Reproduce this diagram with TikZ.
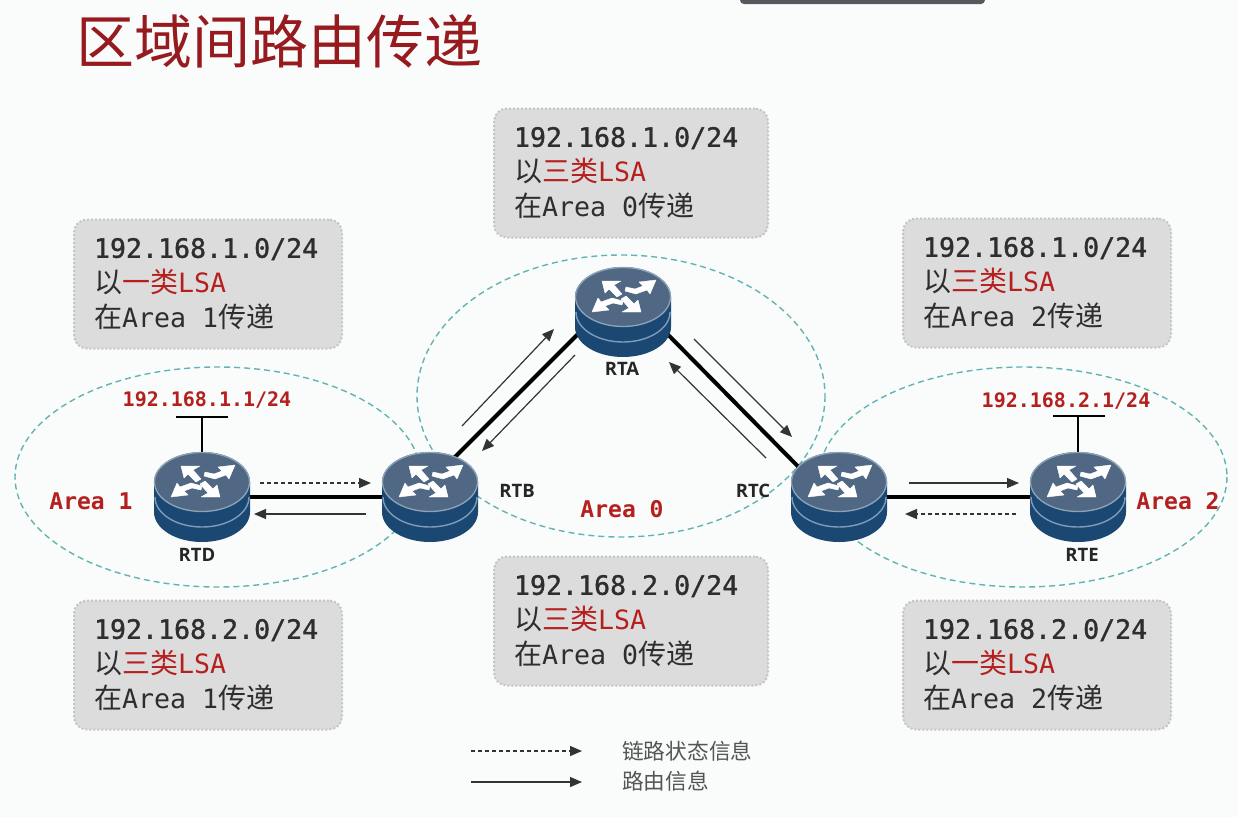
\documentclass[tikz,border=0pt]{standalone}
\usepackage{fontspec}
\setmainfont{DejaVu Sans}
\setmonofont{DejaVu Sans Mono}
\newfontfamily\cjk{Noto Sans CJK SC}
\newfontfamily\rtfont{Open Sans}
\newfontfamily\monoreg{DejaVu Sans Mono}
\newfontfamily\monomed[FakeBold=1.2]{DejaVu Sans Mono}
\usetikzlibrary{arrows.meta,calc}
\definecolor{bgc}{HTML}{F9FCFB}
\definecolor{ttlred}{HTML}{961A1E}
\definecolor{lsared}{HTML}{B5201F}
\definecolor{txtc}{HTML}{2E2E2E}
\definecolor{boxc}{HTML}{DCDCDC}
\definecolor{boxe}{HTML}{C4C4C4}
\definecolor{teal1}{HTML}{62B4B2}
\definecolor{rtop}{HTML}{506884}
\definecolor{rrim}{HTML}{8FA3B7}
\definecolor{rside}{HTML}{1B4872}
\definecolor{rline}{HTML}{7E9CBA}
\definecolor{legc}{HTML}{555555}
\definecolor{barc}{HTML}{55585C}
\tikzset{
  x=1pt,y=-1pt,
  arealoop/.style={draw=teal1,line width=1.4pt,dash pattern=on 6pt off 4pt},
  lsabox/.style={fill=boxc,draw=boxe,line width=2pt,dotted,rounded corners=13pt,minimum height=129pt,text width=228pt,inner xsep=20pt,inner ysep=0pt,align=left,text=txtc,font=\fontsize{26.6}{35}\selectfont\monoreg},
  link/.style={line width=4pt,black},
  stub/.style={line width=2.4pt,black},
  routeinfo/.style={line width=1.2pt,draw=black!80,-{Triangle[length=12pt,width=10pt]}},
  linkinfo/.style={line width=1.4pt,draw=black!80,dash pattern=on 4pt off 3pt,-{Triangle[length=12pt,width=10pt]}},
  rtnode/.style={circle,minimum size=96pt,inner sep=0pt},
  rtlabel/.style={font=\fontsize{18.5}{18.5}\selectfont\rtfont\bfseries,text=black!85},
  iplabel/.style={font=\fontsize{20}{20}\selectfont\ttfamily\bfseries,text=lsared},
  arealabel/.style={font=\fontsize{23}{23}\selectfont\ttfamily\bfseries,text=lsared},
  legendtext/.style={font=\fontsize{21.7}{21.7}\selectfont\cjk,text=legc},
  iconarrow/.style={fill=white,draw=white,line width=0.4pt,line join=round}
}
\newcommand{\drawrouter}[1]{%
  \begin{scope}[shift={(#1)}]
    \fill[rside] (-48,-15) -- (-48,15) arc[start angle=180,end angle=360,x radius=48pt,y radius=30pt] -- (48,-15) -- cycle;
    \fill[rside] (0,-15) ellipse[x radius=48,y radius=30];
    \draw[rline,line width=1.4pt] (-47,0) arc[start angle=180,end angle=360,x radius=47pt,y radius=30pt];
    \fill[rtop,draw=rrim,line width=1.3pt] (0,-15) ellipse[x radius=47.5,y radius=29.5];
    \draw[iconarrow] (-21,-31) -- (-2,-31) -- (-9,-27) -- (-1,-18) -- (-6,-15) -- (-14,-23) -- (-18,-19) -- cycle;
    \draw[iconarrow] (18,0) -- (-1,0) -- (6,-4) -- (-2,-13) -- (3,-16) -- (11,-8) -- (15,-12) -- cycle;
    \draw[iconarrow] (33,-32) -- (16,-30) -- (20,-26) -- (12,-23) -- (3,-25) -- (2,-21) -- (13,-18) -- (24,-22) -- (27,-18) -- cycle;
    \draw[iconarrow] (-31,0) -- (-14,-2) -- (-18,-6) -- (-10,-9) -- (-1,-7) -- (0,-11) -- (-11,-14) -- (-22,-10) -- (-25,-14) -- cycle;
  \end{scope}%
}
\newcommand{\cj}[1]{{\fontsize{28}{35}\selectfont\cjk #1}}
\newcommand{\boxline}[2]{%
  \cj{以}\textcolor{lsared}{\cj{#1}LSA}\\
  \cj{在}Area\hspace{16pt}#2\cj{传递}}
\begin{document}
\begin{tikzpicture}
\useasboundingbox (0,0) rectangle (1238,817);
\fill[bgc] (0,0) rectangle (1238,817);
\fill[barc,rounded corners=4pt] (740,-8) rectangle (985,4);

\node[anchor=west,inner sep=0pt,text=ttlred,font=\fontsize{58}{58}\selectfont\cjk] (title) at (76,41) {区域间路由传递};

% areas
\draw[arealoop] (218,477) ellipse[x radius=203,y radius=110];
\draw[arealoop] (621,396) ellipse[x radius=204,y radius=141];
\draw[arealoop] (1023,477) ellipse[x radius=204,y radius=110];

% boxes
\node[lsabox] (b1) at (208,284) {\mbox{\monomed 192.168.1.0/24}\\\boxline{一类}{1}};
\node[lsabox,text width=234pt] (b2) at (631,173) {\mbox{\monomed 192.168.1.0/24}\\\boxline{三类}{0}};
\node[lsabox] (b3) at (1037,283) {\mbox{\monomed 192.168.1.0/24}\\\boxline{三类}{2}};
\node[lsabox] (b4) at (208,665) {\mbox{\monomed 192.168.2.0/24}\\\boxline{三类}{1}};
\node[lsabox,text width=234pt] (b5) at (631,621) {\mbox{\monomed 192.168.2.0/24}\\\boxline{三类}{0}};
\node[lsabox] (b6) at (1037,665) {\mbox{\monomed 192.168.2.0/24}\\\boxline{一类}{2}};

% router anchors
\node[rtnode] (RTD) at (202,497) {};
\node[rtnode] (RTB) at (430,497) {};
\node[rtnode] (RTA) at (623,312) {};
\node[rtnode] (RTC) at (839,497) {};
\node[rtnode] (RTE) at (1078,497) {};

% links
\draw[link] (RTD) -- (RTB);
\draw[link] (RTC) -- (RTE);
\draw[link] ($(RTB)+(0,-15)$) -- ($(RTA)+(0,-23)$);
\draw[link] ($(RTA)+(0,-23)$) -- ($(RTC)+(0,11)$);

% stubs
\coordinate (sd) at (202,417);
\coordinate (sdl) at (176,417);
\coordinate (sdr) at (228,417);
\coordinate (se) at (1078,416);
\coordinate (sel) at (1053,416);
\coordinate (ser) at (1105,416);
\draw[stub] (RTD.center) -- (sd);
\draw[stub] (sdl) -- (sdr);
\draw[stub] (RTE.center) -- (se);
\draw[stub] (sel) -- (ser);

% routers
\drawrouter{RTD}
\drawrouter{RTB}
\drawrouter{RTA}
\drawrouter{RTC}
\drawrouter{RTE}

% info arrows
\coordinate (a1) at (260,483); \coordinate (a2) at (371,483);
\coordinate (a3) at (366,514); \coordinate (a4) at (254,514);
\coordinate (a5) at (909,483); \coordinate (a6) at (1019,483);
\coordinate (a7) at (1016,514); \coordinate (a8) at (905,514);
\coordinate (a9) at (462,426); \coordinate (a10) at (554,329);
\coordinate (a11) at (575,355); \coordinate (a12) at (482,451);
\coordinate (a13) at (694,339); \coordinate (a14) at (792,437);
\coordinate (a15) at (766,458); \coordinate (a16) at (669,362);
\draw[linkinfo] (a1) -- (a2);
\draw[routeinfo] (a3) -- (a4);
\draw[routeinfo] (a5) -- (a6);
\draw[linkinfo] (a7) -- (a8);
\draw[routeinfo] (a9) -- (a10);
\draw[routeinfo] (a11) -- (a12);
\draw[routeinfo] (a13) -- (a14);
\draw[routeinfo] (a15) -- (a16);

% labels
\node[rtlabel] (lD) at (197,555) {RTD};
\node[rtlabel] (lA) at (622,369) {RTA};
\node[rtlabel] (lB) at (517,491) {RTB};
\node[rtlabel] (lC) at (753,491) {RTC};
\node[rtlabel] (lE) at (1082,555) {RTE};
\node[iplabel] (ip1) at (207,400) {192.168.1.1/24};
\node[iplabel] (ip2) at (1066,401) {192.168.2.1/24};
\node[arealabel] (ar1) at (91,501) {Area 1};
\node[arealabel] (ar0) at (622,509) {Area 0};
\node[arealabel] (ar2) at (1178,501) {Area 2};

% legend
\coordinate (l1) at (471,751); \coordinate (l2) at (582,751);
\coordinate (l3) at (471,782); \coordinate (l4) at (582,782);
\draw[linkinfo] (l1) -- (l2);
\draw[routeinfo,line width=1.4pt] (l3) -- (l4);
\node[legendtext,anchor=west,inner sep=0pt] (lt1) at (622,751) {链路状态信息};
\node[legendtext,anchor=west,inner sep=0pt] (lt2) at (622,781) {路由信息};
\end{tikzpicture}
\end{document}
